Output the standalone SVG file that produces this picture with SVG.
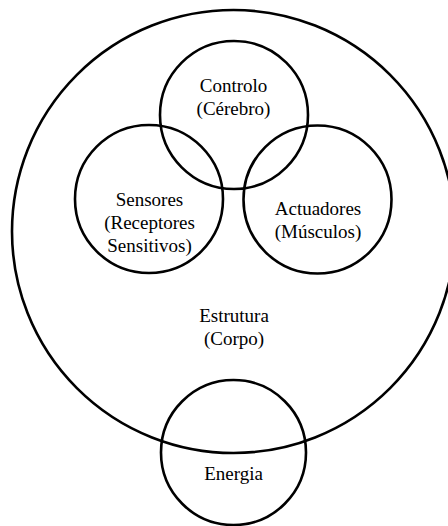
<svg xmlns="http://www.w3.org/2000/svg" width="448" height="526" viewBox="0 0 448 526">
  <style>
    .ring { fill: none; stroke: #000; stroke-width: 2.6; }
    .label { font-family: "Liberation Serif", "Times New Roman", serif; font-size: 19px; fill: #000; text-anchor: middle; }
  </style>
  <rect width="448" height="526" fill="#fff"/>

  <g id="estrutura">
    <circle class="ring" cx="233.5" cy="231.5" r="221.5"/>
    <text class="label" x="234" y="322">Estrutura</text>
    <text class="label" x="234" y="345">(Corpo)</text>
  </g>

  <g id="controlo">
    <circle class="ring" cx="234" cy="115" r="74"/>
    <text class="label" x="233.5" y="91.5">Controlo</text>
    <text class="label" x="233.5" y="114.5">(Cérebro)</text>
  </g>

  <g id="sensores">
    <circle class="ring" cx="149" cy="199" r="74"/>
    <text class="label" x="149.5" y="206">Sensores</text>
    <text class="label" x="149.5" y="229">(Receptores</text>
    <text class="label" x="149.5" y="252">Sensitivos)</text>
  </g>

  <g id="actuadores">
    <circle class="ring" cx="317.5" cy="199.5" r="74"/>
    <text class="label" x="318" y="214.5">Actuadores</text>
    <text class="label" x="318" y="237.5">(Músculos)</text>
  </g>

  <g id="energia">
    <circle class="ring" cx="233.5" cy="452.5" r="72.5"/>
    <text class="label" x="233.5" y="479.5">Energia</text>
  </g>

  <g id="connectors"/>
</svg>
